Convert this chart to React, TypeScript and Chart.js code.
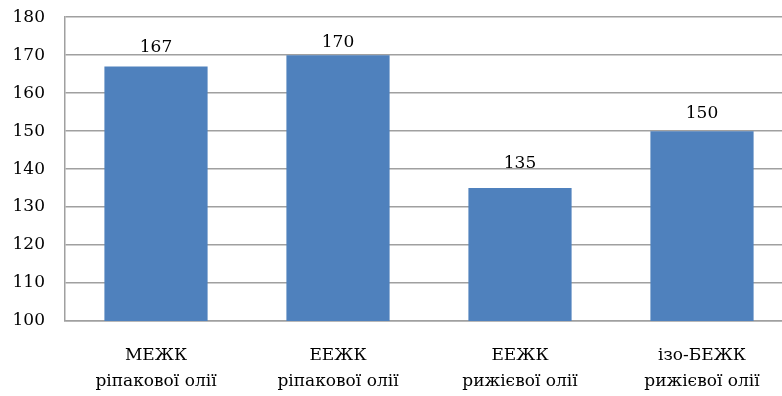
import React, { useEffect, useRef } from "react";
import { Chart, registerables } from "chart.js";

Chart.register(...registerables);

const categories: string[][] = [
  ["МЕЖК", "ріпакової олії"],
  ["ЕЕЖК", "ріпакової олії"],
  ["ЕЕЖК", "рижієвої олії"],
  ["ізо-БЕЖК", "рижієвої олії"],
];
const values: number[] = [167, 170, 135, 150];
const yMin = 100;
const yMax = 180;
const yStep = 10;

const FONT = "'DejaVu Serif', 'Liberation Serif', serif";

// gap in px between each bar top and the baseline of its value label
const labelLift = [15, 8, 20, 13];

const valueLabels = {
  id: "valueLabels",
  afterDatasetsDraw(chart: any) {
    const { ctx } = chart;
    const meta = chart.getDatasetMeta(0);
    ctx.save();
    ctx.fillStyle = "#000";
    ctx.font = `17px ${FONT}`;
    ctx.textAlign = "center";
    ctx.textBaseline = "alphabetic";
    meta.data.forEach((bar: any, i: number) => {
      ctx.fillText(
        String(chart.data.datasets[0].data[i]),
        bar.x,
        bar.y - (labelLift[i] ?? 14)
      );
    });
    ctx.restore();
  },
};

export default function App() {
  const ref = useRef<HTMLCanvasElement | null>(null);

  useEffect(() => {
    if (!ref.current) return;
    const chart = new Chart(ref.current, {
      type: "bar",
      data: {
        labels: categories,
        datasets: [
          {
            data: values,
            backgroundColor: "#4f81bd",
            borderWidth: 0,
            barPercentage: 1,
            categoryPercentage: 0.567,
          },
        ],
      },
      options: {
        animation: false,
        responsive: false,
        maintainAspectRatio: false,
        layout: { padding: { top: 4, right: 0, left: 0, bottom: 0 } },
        plugins: {
          legend: { display: false },
          tooltip: { enabled: false },
        },
        scales: {
          x: {
            grid: { display: false, drawTicks: false },
            border: { display: true, color: "#a0a0a0", width: 1.5 },
            ticks: {
              color: "#000",
              font: { family: FONT, size: 17, lineHeight: 1.5 },
              padding: 22,
              maxRotation: 0,
              autoSkip: false,
            },
            afterFit: (s: any) => {
              s.height = 75;
            },
          },
          y: {
            min: yMin,
            max: yMax,
            grid: { color: "#a0a0a0", lineWidth: 1.5, drawTicks: false },
            border: { display: true, color: "#a0a0a0", width: 1.5 },
            ticks: {
              stepSize: yStep,
              color: "#000",
              font: { family: FONT, size: 17 },
              padding: 20,
            },
            afterFit: (s: any) => {
              s.width = 65;
            },
          },
        },
      },
      plugins: [valueLabels],
    });
    return () => chart.destroy();
  }, []);

  return (
    <div
      style={{
        position: "fixed",
        left: 0,
        top: 0,
        width: 782,
        height: 396,
        overflow: "hidden",
        background: "#fff",
      }}
    >
      <canvas
        ref={ref}
        width={793}
        height={409}
        style={{ display: "block", marginTop: -13 }}
      />
    </div>
  );
}
